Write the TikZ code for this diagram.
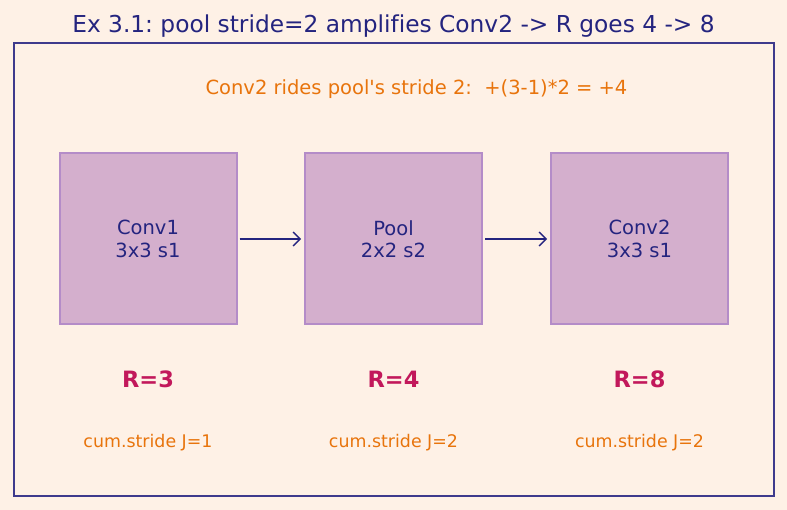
\documentclass[tikz,border=0pt]{standalone}
\usepackage{fontspec}
\setmainfont{DejaVu Sans}[Ligatures={TeXOff,CommonOff}]
\frenchspacing
\usetikzlibrary{arrows.meta}
\definecolor{bg}{HTML}{FEF1E6}
\definecolor{navy}{HTML}{24247F}
\definecolor{frame}{HTML}{3E3A8C}
\definecolor{boxfill}{HTML}{D4AFCD}
\definecolor{boxline}{HTML}{B48CC8}
\definecolor{orng}{HTML}{E8740C}
\definecolor{rcol}{HTML}{C2185B}
\tikzset{
  layer/.style={draw=boxline, fill=boxfill, line width=2pt, minimum width=177pt, minimum height=171pt, inner sep=0pt, text=navy, font=\fontsize{19.5}{22.5}\selectfont, align=center},
  flow/.style={draw=navy, line width=1.4pt, -{Straight Barb[length=7pt,width=14pt,line width=1.4pt]}},
  rlab/.style={text=rcol, font=\fontsize{22.5}{26}\selectfont\bfseries},
  jlab/.style={text=orng, font=\fontsize{17.4}{20}\selectfont},
}
\begin{document}
\begin{tikzpicture}[x=1pt,y=-1pt]
\fill[bg] (0,0) rectangle (787,510);
\useasboundingbox (0,0) rectangle (787,510);
\node[text=navy, font=\fontsize{23.3}{27}\selectfont] (title) at (393.5,26) {Ex 3.1: pool stride=2 amplifies Conv2 -> R goes 4 -> 8};
\draw[frame, line width=1.3pt] (14,43) rectangle (774,496);
\node[text=orng, font=\fontsize{19.5}{23}\selectfont] (sub) at (416.5,89) {Conv2 rides pool's stride 2:\ \ +(3-1)*2 = +4};
\node[layer] (c1) at (148,239) {Conv1\\3x3 s1};
\node[layer] (p) at (393.5,239) {Pool\\2x2 s2};
\node[layer] (c2) at (639.5,239) {Conv2\\3x3 s1};
\draw[flow] ([xshift=2pt]c1.east) -- ([xshift=-3pt]p.west);
\draw[flow] ([xshift=2pt]p.east) -- ([xshift=-3pt]c2.west);
\node[rlab] (r1) at (148,379) {R=3};
\node[rlab] (r2) at (393.5,379) {R=4};
\node[rlab] (r3) at (639.5,379) {R=8};
\node[jlab] (j1) at (148,443) {cum.stride J=1};
\node[jlab] (j2) at (393.5,443) {cum.stride J=2};
\node[jlab] (j3) at (639.5,443) {cum.stride J=2};
\end{tikzpicture}
\end{document}
